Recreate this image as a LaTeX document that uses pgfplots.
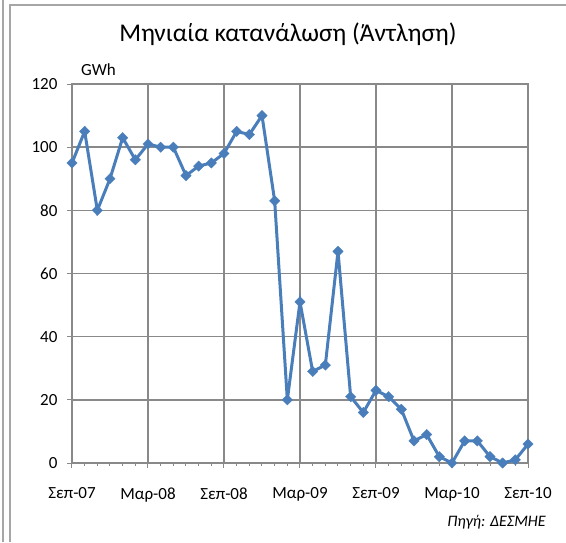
\documentclass[border=0pt]{standalone}
\usepackage{pgfplots}
\pgfplotsset{compat=1.18}
\usepackage{fontspec}
\setmainfont{Carlito}
\definecolor{ser}{HTML}{4A7EBB}
\definecolor{grd}{HTML}{898989}
\definecolor{frm}{HTML}{A6A6A6}
\begin{document}
\begin{tikzpicture}[x=1pt,y=1pt]
\useasboundingbox (0,0) rectangle (566,542);
\draw[frm, line width=1.5pt] (3,0) -- (3,542);
\draw[frm, line width=1.5pt] (10,0) -- (10,537) -- (566,537);
\node[font=\fontsize{25.5}{29}\selectfont] at (288,508) {Μηνιαία κατανάλωση (Άντληση)};
\node[font=\fontsize{17}{20}\selectfont, anchor=west, inner sep=0pt] at (81,472) {GWh};
\node[font=\fontsize{16}{19}\selectfont\itshape, anchor=east, inner sep=0pt] at (546,20) {Πηγή: ΔΕΣΜΗΕ};
\begin{axis}[
  at={(72pt,79pt)}, anchor=south west, scale only axis,
  width=456pt, height=379pt,
  xmin=0, xmax=36, ymin=0, ymax=120,
  xtick={0,6,...,36},
  xticklabels={Σεπ-07,Μαρ-08,Σεπ-08,Μαρ-09,Σεπ-09,Μαρ-10,Σεπ-10},
  minor xtick={0,1,...,36},
  ytick={0,20,...,120},
  grid=major,
  major grid style={grd, line width=1.4pt},
  axis line style={grd, line width=1.4pt},
  tick style={grd, line width=1pt},
  tick align=outside,
  major tick length=5pt, minor tick length=3pt,
  xtick pos=bottom, ytick pos=left,
  ticklabel style={font=\fontsize{17}{20}\selectfont},
  /pgf/number format/assume math mode=true,
  xticklabel style={yshift=-16pt},
  yticklabel style={xshift=-6pt},
  clip=false,
]
\addplot[ser, line width=3pt, mark=square*, mark size=3.7pt,
  mark options={fill=ser, solid, rotate=45, line width=0.3pt}] coordinates {
(0,95) (1,105) (2,80) (3,90) (4,103) (5,96) (6,101) (7,100) (8,100) (9,91)
(10,94) (11,95) (12,98) (13,105) (14,104) (15,110) (16,83) (17,20) (18,51)
(19,29) (20,31) (21,67) (22,21) (23,16) (24,23) (25,21) (26,17) (27,7)
(28,9) (29,2) (30,0) (31,7) (32,7) (33,2) (34,0) (35,1) (36,6)
};
\end{axis}
\end{tikzpicture}
\end{document}
